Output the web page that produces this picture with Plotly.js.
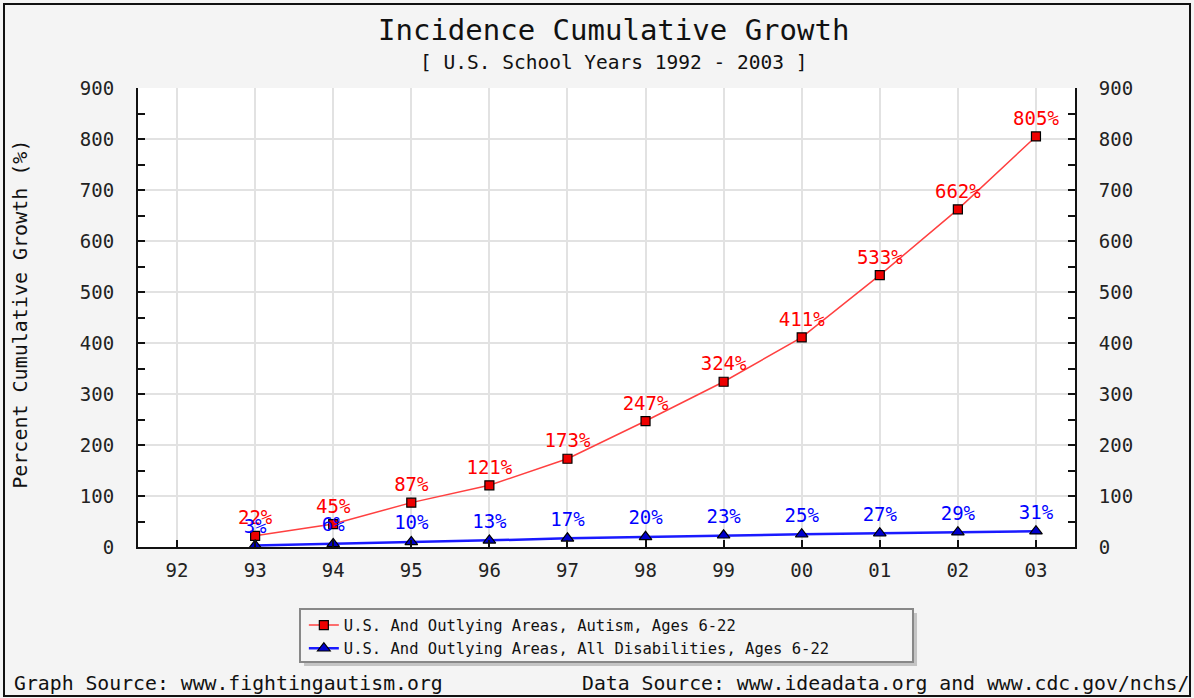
<!DOCTYPE html>
<html>
<head>
<meta charset="utf-8">
<script src="https://cdn.plot.ly/plotly-3.0.1.min.js"></script>
<style>
  html, body { margin:0; padding:0; background:#f4f4f4; }
  #wrap { position:relative; width:1194px; height:698px; overflow:hidden; }
  #chart { position:absolute; left:0; top:0; width:1194px; height:698px; }
  #frame { position:absolute; left:3px; top:3px; width:1184px; height:690px; border:2px solid #111; pointer-events:none; }
</style>
</head>
<body>
<div id="wrap"><div id="chart"></div><div id="frame"></div></div>
<script>
const categories = ['92','93','94','95','96','97','98','99','00','01','02','03'];
const seriesYears = ['93','94','95','96','97','98','99','00','01','02','03'];
const autismValues = [22, 45, 87, 121, 173, 247, 324, 411, 533, 662, 805];
const allDisValues = [3, 6, 10, 13, 17, 20, 23, 25, 27, 29, 31];
const autismName = 'U.S. And Outlying Areas, Autism, Ages 6-22';
const allDisName = 'U.S. And Outlying Areas, All Disabilities, Ages 6-22';
const yTicks = [0,100,200,300,400,500,600,700,800,900];
const titleText = 'Incidence Cumulative Growth';
const subtitleText = '[ U.S. School Years 1992 - 2003 ]';
const yTitleText = 'Percent Cumulative Growth (%)';
const graphSource = 'Graph Source: www.fightingautism.org';
const dataSource = 'Data Source: www.ideadata.org and www.cdc.gov/nchs/';

const mono = 'DejaVu Sans Mono, monospace';

const traces = [
  {
    x: seriesYears, y: autismValues, name: autismName,
    type: 'scatter', mode: 'lines+markers+text',
    text: autismValues.map(v => v + '%'), textposition: 'top center',
    textfont: {family: mono, size: 19, color: '#ff0000'},
    line: {color: '#ff4040', width: 1.5},
    marker: {symbol: 'square', size: 9, color: '#ee0000', line: {color: '#000', width: 1.2}},
    cliponaxis: false
  },
  {
    x: seriesYears, y: allDisValues, name: allDisName,
    type: 'scatter', mode: 'lines+markers+text',
    text: allDisValues.map(v => v + '%'), textposition: 'top center',
    textfont: {family: mono, size: 19, color: '#0000ff'},
    line: {color: '#1a1aff', width: 2.5},
    marker: {symbol: 'triangle-up', size: 11, color: '#0000cc', line: {color: '#000', width: 1.2}},
    cliponaxis: false
  }
];

const layout = {
  width: 1194, height: 698,
  paper_bgcolor: '#f4f4f4', plot_bgcolor: '#ffffff',
  margin: {l: 138, r: 119, t: 88, b: 151},
  font: {family: mono, color: '#111', size: 15},
  showlegend: true,
  xaxis: {
    type: 'category', categoryarray: categories, categoryorder: 'array',
    range: [-0.5, 11.5],
    showgrid: true, gridcolor: '#e2e2e2', gridwidth: 2,
    showline: true, linecolor: '#111', linewidth: 2,
    ticks: 'inside', ticklen: 7, tickcolor: '#111', tickwidth: 2,
    tickfont: {family: mono, size: 19, color: '#222'},
    ticklabelstandoff: 5,
    zeroline: false, fixedrange: true
  },
  yaxis: {
    range: [0, 900], tickvals: yTicks,
    showgrid: true, gridcolor: '#e2e2e2', gridwidth: 2,
    showline: true, linecolor: '#111', linewidth: 2,
    ticks: 'inside', ticklen: 7, tickcolor: '#111', tickwidth: 2,
    minor: {dtick: 50, ticks: 'inside', ticklen: 7, tickcolor: '#111', tickwidth: 2, showgrid: false},
    tickfont: {family: mono, size: 19, color: '#222'},
    ticklabelstandoff: 18,
    zeroline: false
  },
  yaxis2: {
    overlaying: 'y', side: 'right', range: [0, 900], tickvals: yTicks,
    showgrid: false, showline: true, linecolor: '#111', linewidth: 2,
    ticks: 'inside', ticklen: 7, tickcolor: '#111', tickwidth: 2,
    minor: {dtick: 50, ticks: 'inside', ticklen: 7, tickcolor: '#111', tickwidth: 2, showgrid: false},
    tickfont: {family: mono, size: 19, color: '#222'},
    ticklabelstandoff: 18,
    zeroline: false
  },
  legend: {
    x: 0.177, xanchor: 'left', y: -0.134, yanchor: 'top',
    bgcolor: 'rgba(0,0,0,0)', borderwidth: 0,
    font: {family: mono, size: 15.5, color: '#111'},
    tracegroupgap: 0
  },
  shapes: [
    {type: 'rect', xref: 'paper', yref: 'paper', x0: 0.1772, x1: 0.8314, y0: -0.2593, y1: -0.1438,
     fillcolor: '#c4c4c4', line: {width: 0}, layer: 'below'},
    {type: 'rect', xref: 'paper', yref: 'paper', x0: 0.1729, x1: 0.8271, y0: -0.2505, y1: -0.1351,
     fillcolor: '#f4f4f4', line: {width: 2, color: '#888'}, layer: 'below'}
  ],
  annotations: [
    {text: titleText, xref: 'paper', yref: 'paper', x: 0.5075, y: 1.1264,
     xanchor: 'center', yanchor: 'middle', showarrow: false,
     font: {family: mono, size: 29, color: '#111'}},
    {text: subtitleText, xref: 'paper', yref: 'paper', x: 0.5075, y: 1.0566,
     xanchor: 'center', yanchor: 'middle', showarrow: false,
     font: {family: mono, size: 19.5, color: '#111'}},
    {text: yTitleText, xref: 'paper', yref: 'paper', x: -0.126, y: 0.508,
     xanchor: 'center', yanchor: 'middle', showarrow: false, textangle: -90,
     font: {family: mono, size: 20, color: '#111'}},
    {text: graphSource, xref: 'paper', yref: 'paper',
     x: -0.1344, y: -0.2963, xanchor: 'left', yanchor: 'middle', showarrow: false,
     font: {family: mono, size: 19.8, color: '#111'}},
    {text: dataSource, xref: 'paper', yref: 'paper',
     x: 0.4717, y: -0.2963, xanchor: 'left', yanchor: 'middle', showarrow: false,
     font: {family: mono, size: 19.8, color: '#111'}}
  ]
};

// dummy trace to activate yaxis2
traces.push({x: [], y: [], yaxis: 'y2', showlegend: false, hoverinfo: 'skip', type: 'scatter'});

Plotly.newPlot('chart', traces, layout, {displayModeBar: false, staticPlot: true});
</script>
</body>
</html>
